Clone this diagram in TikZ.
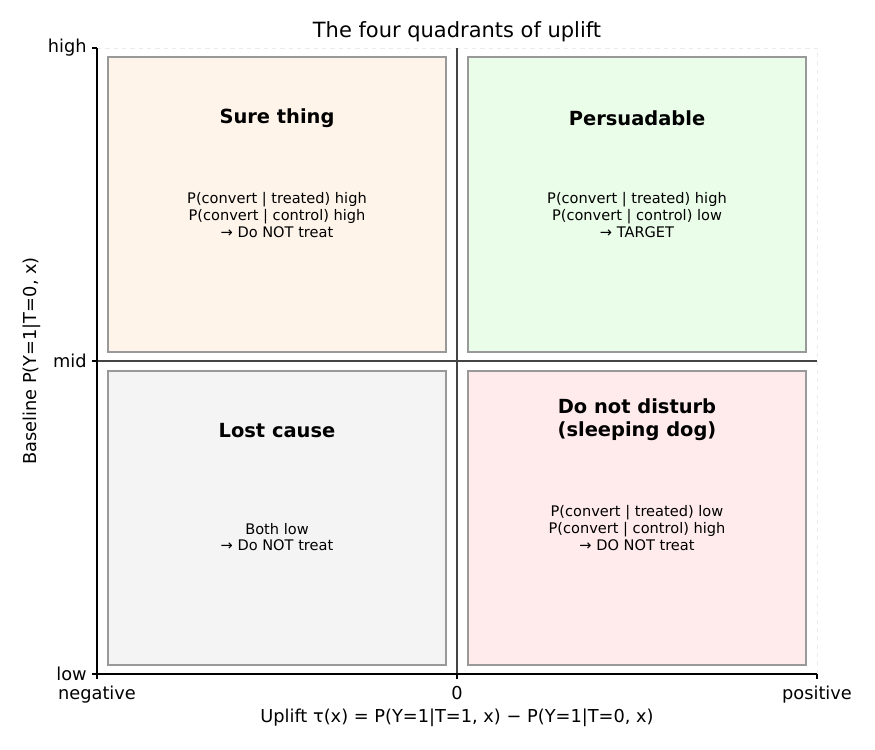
\documentclass[tikz,border=0pt]{standalone}
\usepackage{fontspec}
\setmainfont{DejaVu Sans}
\definecolor{surefill}{HTML}{FEF4EA}
\definecolor{persfill}{HTML}{E9FDE9}
\definecolor{lostfill}{HTML}{F4F4F4}
\definecolor{dndfill}{HTML}{FFEBEB}
\definecolor{boxedge}{HTML}{999999}
\definecolor{divider}{HTML}{444444}
\tikzset{
  quad/.style={draw=boxedge, line width=1.4pt},
  qtitle/.style={font=\fontsize{14}{16.8}\selectfont\bfseries, align=center},
  qbody/.style={font=\fontsize{10.5}{12}\selectfont, align=center},
  ticklab/.style={font=\fontsize{12.8}{15}\selectfont},
  axlab/.style={font=\fontsize{12.8}{15}\selectfont},
  spine/.style={line width=0.8pt, black},
}
\begin{document}
\begin{tikzpicture}[x=0.72pt, y=-0.72pt]
\useasboundingbox (0,0) rectangle (875,750);
% faint frame
\draw[dashed, black!8, line width=0.5pt] (97,48) -- (817,48) -- (817,674);
% quadrant boxes
\node[quad, fill=surefill, minimum width=338*0.72pt, minimum height=295*0.72pt, inner sep=0pt] (tl) at (277,204.5) {};
\node[quad, fill=persfill, minimum width=338*0.72pt, minimum height=295*0.72pt, inner sep=0pt] (tr) at (637,204.5) {};
\node[quad, fill=lostfill, minimum width=338*0.72pt, minimum height=294*0.72pt, inner sep=0pt] (bl) at (277,518) {};
\node[quad, fill=dndfill, minimum width=338*0.72pt, minimum height=294*0.72pt, inner sep=0pt] (br) at (637,518) {};
% dividers
\coordinate (vtop) at (457,48);
\coordinate (vbot) at (457,674);
\coordinate (hl) at (97,361);
\coordinate (hr) at (817,361);
\draw[divider, line width=1.2pt] (vtop) -- (vbot);
\draw[divider, line width=1.2pt] (hl) -- (hr);
% texts
\node[qtitle] (t1) at (277,118) {Sure thing};
\node[qbody] (b1) at (277,215) {P(convert | treated) high\\P(convert | control) high\\→ Do NOT treat};
\node[qtitle] (t2) at (637,118) {Persuadable};
\node[qbody] (b2) at (637,215) {P(convert | treated) high\\P(convert | control) low\\→ TARGET};
\node[qtitle] (t3) at (277,431) {Lost cause};
\node[qbody] (b3) at (277,537) {Both low\\→ Do NOT treat};
\node[qtitle] (t4) at (637,420) {Do not disturb\\(sleeping dog)};
\node[qbody] (b4) at (637,528) {P(convert | treated) low\\P(convert | control) high\\→ DO NOT treat};
% spines
\coordinate (o) at (97,674);
\coordinate (ytop) at (97,48);
\coordinate (xend) at (817,674);
\draw[spine] (ytop) -- (o) -- (xend);
% y ticks
\foreach \yy/\lab/\nm in {48/high/yh, 361/mid/ym, 674/low/yl}{
  \draw[spine] (97,\yy) -- (92,\yy);
  \node[ticklab, anchor=east, inner sep=0pt] (\nm) at (87,\yy) {\lab};
}
% x ticks
\foreach \xx/\lab/\nm in {97/negative/xn, 457/0/xz, 817/positive/xp}{
  \draw[spine] (\xx,674) -- (\xx,679);
  \node[ticklab, anchor=north, inner sep=0pt] (\nm) at (\xx,686) {\lab};
}
% title and axis labels
\node[font=\fontsize{15.1}{18}\selectfont] (title) at (457,32) {The four quadrants of uplift};
\node[axlab] (xlab) at (457,718) {Uplift τ(x) = P(Y=1|T=1, x) − P(Y=1|T=0, x)};
\node[axlab, rotate=90] (ylab) at (32,361) {Baseline P(Y=1|T=0, x)};
\end{tikzpicture}
\end{document}
